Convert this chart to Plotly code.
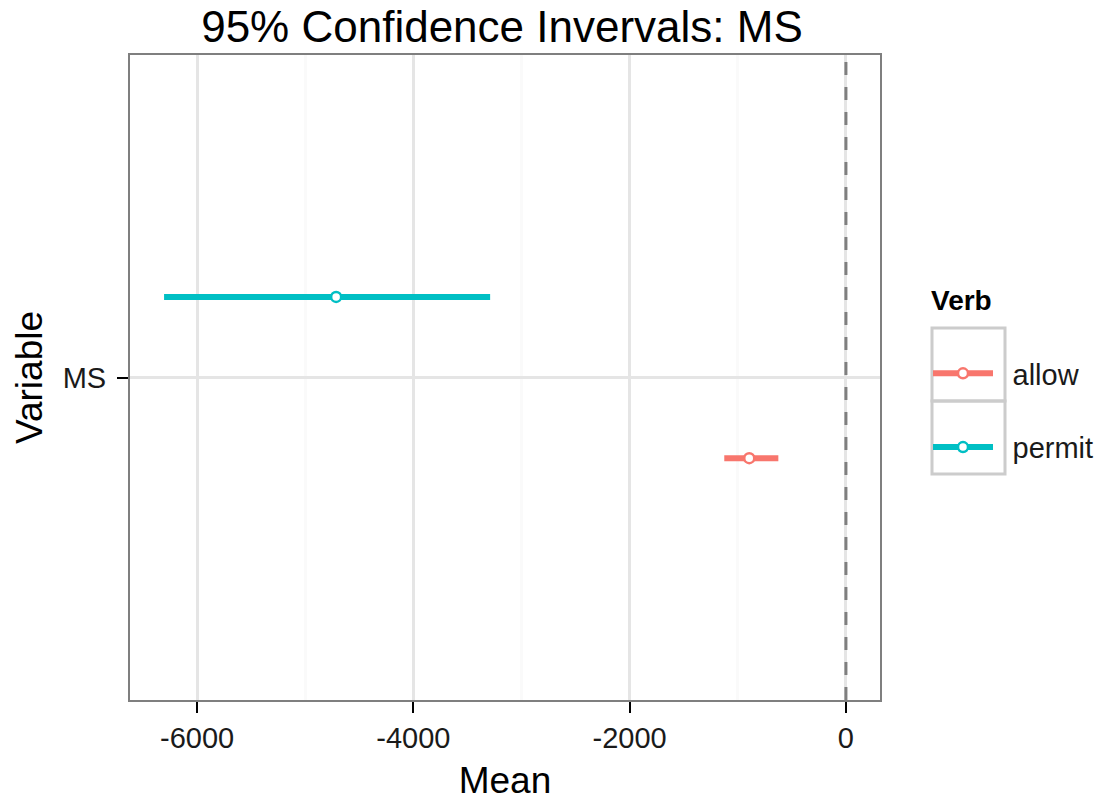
import plotly.graph_objects as go

# ---- data ----
verbs = ["allow", "permit"]
means = [-894, -4714]
lower = [-1125, -6305]
upper = [-625, -3290]
colors = ["#F8766D", "#00BFC4"]
dodge = [-0.15, 0.15]          # position dodge within the single category
category = "MS"
ref_value = 0
x_ticks = [-6000, -4000, -2000, 0]

FONT = "Liberation Sans, Arial, sans-serif"

fig = go.Figure()

for v, m, lo, hi, c, d in zip(verbs, means, lower, upper, colors, dodge):
    yv = 1 + d
    # interval line
    fig.add_trace(go.Scatter(
        x=[lo, hi], y=[yv, yv], mode="lines",
        line=dict(color=c, width=6), legendgroup=v, showlegend=False,
        hoverinfo="skip",
    ))
    # mean point (legend entry shows line + point)
    fig.add_trace(go.Scatter(
        x=[m], y=[yv], mode="lines+markers",
        name="\u2002" + v, legendgroup=v,
        line=dict(color=c, width=6),
        marker=dict(size=10, color="white", symbol="circle",
                    line=dict(color=c, width=2.5)),
        hoverinfo="x+name",
    ))

# reference line at 0
fig.add_shape(type="line", xref="x", yref="paper", x0=ref_value, x1=ref_value,
              y0=0, y1=1, line=dict(color="#7F7F7F", width=3, dash="13px,12px"),
              layer="above")

# legend key boxes (ggplot style)
L, R, T, B = 130, 880, 55, 700
def px2paper_x(px):
    return (px - L) / (R - L)
def px2paper_y(py):
    return (B - py) / (B - T)
key_edges = [328, 401, 474]
for i in range(len(verbs)):
    fig.add_shape(type="rect", xref="paper", yref="paper",
                  x0=px2paper_x(932), x1=px2paper_x(1005),
                  y0=px2paper_y(key_edges[i + 1]), y1=px2paper_y(key_edges[i]),
                  line=dict(color="#CCCCCC", width=3), fillcolor="rgba(0,0,0,0)")

fig.add_annotation(text="<b>Verb</b>", xref="paper", yref="paper",
                   x=px2paper_x(929), y=px2paper_y(300), xanchor="left", yanchor="middle",
                   showarrow=False, font=dict(size=28, color="black", family=FONT))

fig.update_layout(
    width=1110, height=801,
    margin=dict(l=L, r=1110 - R, t=T, b=801 - B, autoexpand=False),
    paper_bgcolor="white", plot_bgcolor="white",
    font=dict(family=FONT, color="#1a1a1a", size=29),
    title=dict(text="95% Confidence Invervals: MS", x=px2paper_x(502), xref="paper",
               xanchor="center", y=1 - 27 / 801, yanchor="middle",
               font=dict(size=44, color="black", family=FONT)),
    showlegend=True,
    legend=dict(
        x=px2paper_x(928), y=px2paper_y(348), xanchor="left", yanchor="top",
        font=dict(size=29, color="#1a1a1a"),
        traceorder="grouped", tracegroupgap=33,
        itemwidth=60, bgcolor="rgba(0,0,0,0)",
    ),
    xaxis=dict(
        range=[-6620, 315], automargin=False,
        tickvals=x_ticks, ticktext=[str(t) for t in x_ticks],
        showgrid=True, gridcolor="#E5E5E5", gridwidth=3,
        minor=dict(dtick=1000, tick0=0, showgrid=True, gridcolor="#FAFAFA", gridwidth=3),
        zeroline=False,
        showline=True, linecolor="#7F7F7F", linewidth=2, mirror=True,
        ticks="outside", ticklen=11, tickwidth=2, tickcolor="black",
        tickfont=dict(size=29, color="#1a1a1a"),
        title=dict(text="Mean", font=dict(size=37, color="black"), standoff=20),
    ),
    yaxis=dict(
        range=[0.4, 1.6], automargin=False,
        tickvals=[1], ticktext=[category],
        showgrid=True, gridcolor="#E5E5E5", gridwidth=3,
        zeroline=False,
        showline=True, linecolor="#7F7F7F", linewidth=2, mirror=True,
        ticks="outside", ticklen=11, tickwidth=2, tickcolor="black",
        ticklabelstandoff=5,
        tickfont=dict(size=29, color="#1a1a1a"),
        title=dict(text="Variable", font=dict(size=37, color="black"), standoff=9),
    ),
)

fig.write_html("out.html")
